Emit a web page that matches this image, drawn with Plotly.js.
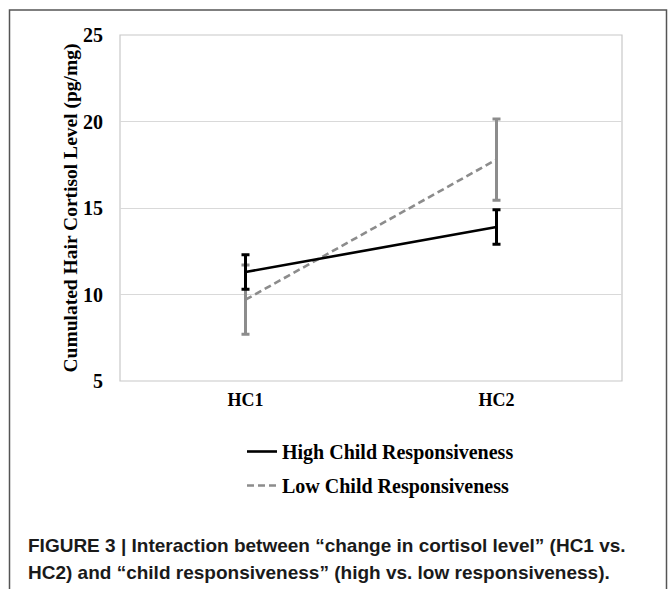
<!DOCTYPE html>
<html>
<head>
<meta charset="utf-8">
<script src="https://cdn.plot.ly/plotly-3.0.1.min.js"></script>
<style>
html,body{margin:0;padding:0;background:#fff;}
#chart{width:670px;height:589px;}
</style>
</head>
<body>
<div id="chart"></div>
<script>
const categories = ["HC1", "HC2"];
const highMeans = [11.3, 13.9];
const highErr = [1.0, 1.0];
const lowMeans = [9.7, 17.8];
const lowErr = [2.0, 2.35];
const seriesNames = ["High Child Responsiveness", "Low Child Responsiveness"];
const yTicks = [5, 10, 15, 20, 25];
const captionLines = [
  "FIGURE 3 | Interaction between \u201cchange in cortisol level\u201d (HC1 vs.",
  "HC2) and \u201cchild responsiveness\u201d (high vs. low responsiveness)."
];

const serif = "Liberation Serif, Times New Roman, serif";
const L = 120, R = 622, T = 35, B = 381, W = 670, H = 589;
const pw = R - L, ph = B - T;
const px = x => (x - L) / pw;
const py = y => (B - y) / ph;

const traces = [
  {
    x: categories, y: lowMeans, type: "scatter", mode: "lines",
    name: seriesNames[1], legendgroup: "b", legendrank: 2,
    line: {color: "#8c8c8c", width: 2.6, dash: "7px,4px"},
    error_y: {type: "data", array: lowErr, visible: true, color: "#8c8c8c", thickness: 3, width: 4}
  },
  {
    x: categories, y: highMeans, type: "scatter", mode: "lines",
    name: seriesNames[0], legendgroup: "a", legendrank: 1,
    line: {color: "#000000", width: 2.6},
    error_y: {type: "data", array: highErr, visible: true, color: "#000000", thickness: 3, width: 4}
  }
];

const layout = {
  width: W, height: H,
  margin: {l: L, r: W - R, t: T, b: H - B, pad: 0},
  paper_bgcolor: "#ffffff", plot_bgcolor: "#ffffff",
  showlegend: true,
  legend: {
    x: px(242), y: py(432), xanchor: "left", yanchor: "top",
    traceorder: "grouped", tracegroupgap: 5,
    font: {family: serif, size: 20, color: "#000", weight: "bold"},
    bgcolor: "rgba(0,0,0,0)"
  },
  xaxis: {
    type: "category", range: [-0.5, 1.5],
    showgrid: false, zeroline: false, showline: false,
    ticks: "", tickfont: {family: serif, size: 18, color: "#000", weight: "bold"},
    ticklabelstandoff: 6
  },
  yaxis: {
    range: [5, 25], tickvals: yTicks,
    showgrid: true, gridcolor: "#d9d9d9", gridwidth: 1,
    zeroline: false, showline: false, ticks: "",
    tickfont: {family: serif, size: 20, color: "#000", weight: "bold"},
    ticklabelstandoff: 16,
    title: {text: "Cumulated Hair Cortisol Level (pg/mg)", font: {family: serif, size: 19.5, color: "#000", weight: "bold"}, standoff: 0}
  },
  shapes: [
    {type: "rect", xref: "paper", yref: "paper", x0: 0, x1: 1, y0: 0, y1: 1,
     line: {color: "#c8c8c8", width: 1.2}, fillcolor: "rgba(0,0,0,0)", layer: "below"},
    {type: "rect", xref: "paper", yref: "paper", x0: px(9.5), x1: px(666.5), y0: py(620), y1: py(10),
     line: {color: "#555555", width: 1.5}, fillcolor: "rgba(0,0,0,0)"}
  ],
  annotations: captionLines.map((t, i) => ({
    xref: "paper", yref: "paper", x: px(26), y: py(545 + i * 27),
    xanchor: "left", yanchor: "middle", showarrow: false, text: t,
    font: {family: "Liberation Sans Narrow, Arial Narrow, Liberation Sans, sans-serif", size: 19, color: "#1a1a1a", weight: "bold"}
  }))
};

Plotly.newPlot("chart", traces, layout, {displayModeBar: false, staticPlot: true});
</script>
</body>
</html>
